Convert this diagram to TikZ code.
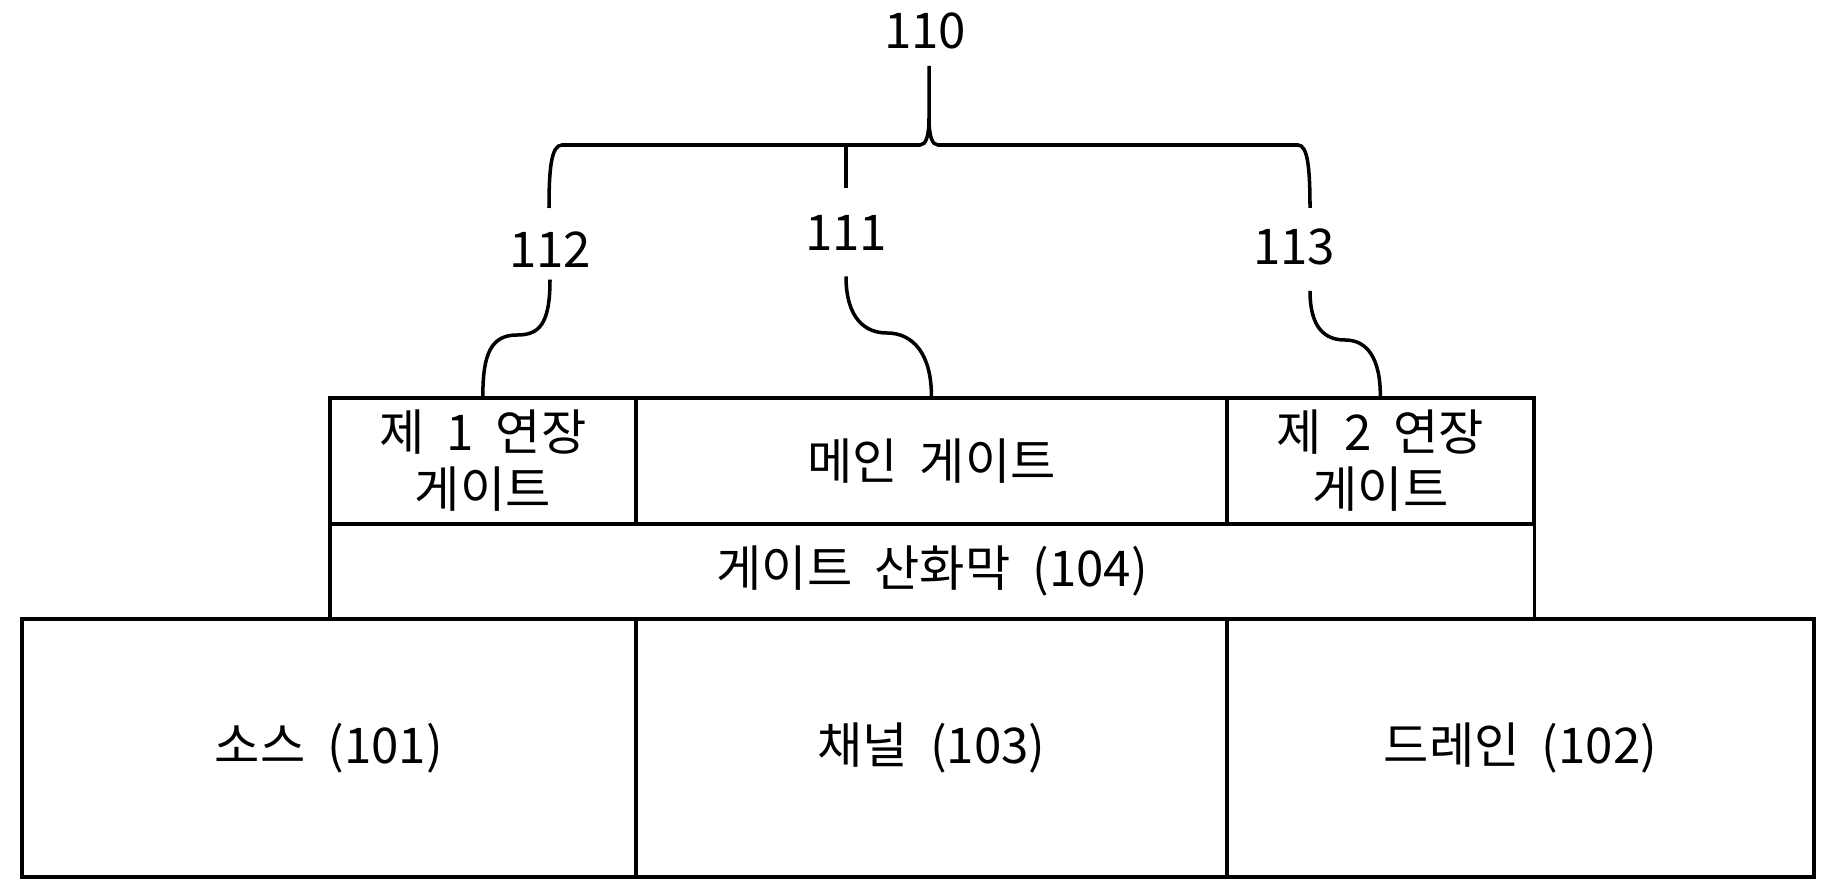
\documentclass[tikz,border=0pt]{standalone}
\usepackage{fontspec}
\setmainfont[WordSpace=2]{Noto Sans CJK KR}

\begin{document}
\begin{tikzpicture}[x=0.01cm, y=-0.01cm, line width=1pt,
    every node/.style={font=\fontsize{14}{16.2}\selectfont, inner sep=0pt},
    layer/.style={draw, rectangle, align=center, anchor=north west, line width=1pt},
    refnum/.style={anchor=center},
    leader/.style={line width=1pt}]
  \useasboundingbox (0,0) rectangle (1830,888);

  \node[layer, minimum width=6.14cm, minimum height=2.58cm] (source) at (20,617) {소스 (101)};
  \node[layer, minimum width=5.91cm, minimum height=2.58cm] (channel) at (634,617) {채널 (103)};
  \node[layer, minimum width=5.87cm, minimum height=2.58cm] (drain) at (1225,617) {드레인 (102)};
  \node[layer, minimum width=12.04cm, minimum height=0.95cm] (oxide) at (328,522) {게이트 산화막 (104)};
  \node[layer, minimum width=3.06cm, minimum height=1.26cm] (ext1) at (328,396) {제 1 연장\\게이트};
  \node[layer, minimum width=5.91cm, minimum height=1.26cm] (main) at (634,396) {메인 게이트};
  \node[layer, minimum width=3.07cm, minimum height=1.26cm] (ext2) at (1225,396) {제 2 연장\\게이트};

  \node[refnum] (l110) at (925,31) {110};
  \node[refnum] (l112) at (550,250) {112};
  \node[refnum] (l111) at (846,233) {111};
  \node[refnum] (l113) at (1294,247) {113};

  \coordinate (top110) at (929,66);
  \coordinate (tip110) at (929,118);
  \coordinate (hookL) at (549,208);
  \coordinate (hookR) at (1310,208);
  \coordinate (b111) at (846,145);
  \coordinate (m112) at (517,335);
  \coordinate (m111) at (887,333);
  \coordinate (m113) at (1345,340);

  \draw[leader] (hookL) .. controls (549,170) and (551,145) .. (562,145) -- (920,145)
    .. controls (926,145) and (929,136) .. (tip110) -- (top110);
  \draw[leader] (tip110) .. controls (929,136) and (932,145) .. (938,145) -- (1298,145)
    .. controls (1308,145) and (1310,170) .. (hookR);
  \draw[leader] (b111) -- ([yshift=0.26cm]l111.north);

  \draw[leader] ([yshift=-0.1cm]l112.south) .. controls +(0,45) and +(22,0) .. (m112)
    .. controls +(-26,0) and +(0,-42) .. (ext1.north);
  \draw[leader] ([yshift=-0.24cm]l111.south) .. controls +(0,42) and +(-22,0) .. (m111)
    .. controls +(26,0) and +(0,-42) .. (main.north);
  \draw[leader] ([xshift=0.16cm, yshift=-0.24cm]l113.south) .. controls +(0,37) and +(-20,0) .. (m113)
    .. controls +(22,0) and +(0,-38) .. (ext2.north);
\end{tikzpicture}
\end{document}
